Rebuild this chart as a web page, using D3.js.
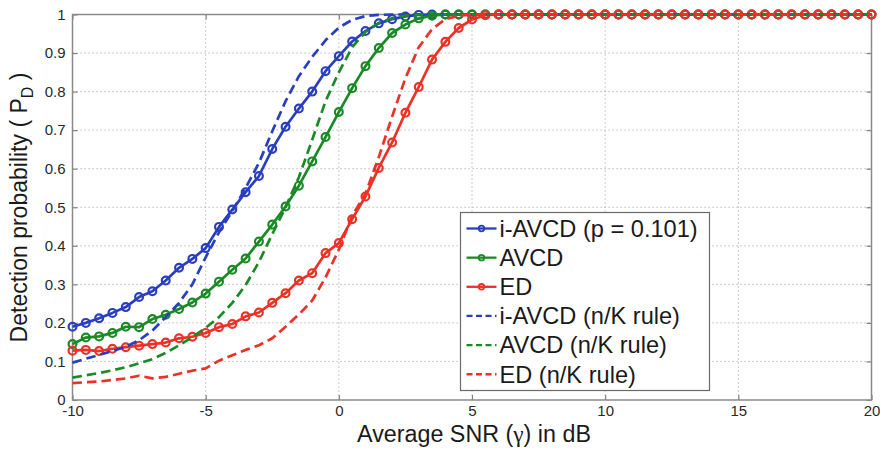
<!DOCTYPE html>
<html>
<head>
<meta charset="utf-8">
<script src="https://cdn.jsdelivr.net/npm/d3@7/dist/d3.min.js"></script>
<style>
  html, body { margin: 0; padding: 0; background: #fff; }
  svg { display: block; font-family: "Liberation Sans", Arial, sans-serif; }
</style>
</head>
<body>
<svg id="chart" width="880" height="450"></svg>
<script>
// Average SNR grid (dB)
const snrDb = [-10,-9.5,-9,-8.5,-8,-7.5,-7,-6.5,-6,-5.5,-5,-4.5,-4,-3.5,-3,-2.5,-2,-1.5,-1,-0.5,
  0,0.5,1,1.5,2,2.5,3,3.5,4,4.5,5,5.5,6,6.5,7,7.5,8,8.5,9,9.5,
  10,10.5,11,11.5,12,12.5,13,13.5,14,14.5,15,15.5,16,16.5,17,17.5,18,18.5,19,19.5,20];

// Detection probability per detector
const iAvcd = [0.190,0.200,0.212,0.226,0.241,0.267,0.282,0.310,0.343,0.366,0.394,0.449,0.494,0.539,0.581,0.651,0.709,0.756,0.800,0.853,
  0.892,0.930,0.957,0.977,0.988,0.995,0.999,1,1,1,1,1,1,1,1,1,1,1,1,1,
  1,1,1,1,1,1,1,1,1,1,1,1,1,1,1,1,1,1,1,1,1];
const avcd = [0.145,0.162,0.165,0.174,0.190,0.189,0.210,0.221,0.236,0.253,0.276,0.307,0.338,0.367,0.411,0.455,0.502,0.556,0.619,0.682,
  0.747,0.809,0.866,0.913,0.952,0.974,0.990,0.997,1,1,1,1,1,1,1,1,1,1,1,1,
  1,1,1,1,1,1,1,1,1,1,1,1,1,1,1,1,1,1,1,1,1];
const ed = [0.128,0.130,0.127,0.133,0.137,0.141,0.145,0.149,0.160,0.164,0.174,0.189,0.197,0.217,0.227,0.252,0.277,0.310,0.329,0.381,
  0.407,0.469,0.528,0.602,0.668,0.745,0.812,0.883,0.929,0.965,0.987,0.998,1,1,1,1,1,1,1,1,
  1,1,1,1,1,1,1,1,1,1,1,1,1,1,1,1,1,1,1,1,1];
const iAvcdNK = [0.097,0.107,0.117,0.127,0.138,0.155,0.180,0.215,0.252,0.300,0.370,0.435,0.490,0.550,0.615,0.697,0.775,0.840,0.890,0.933,
  0.966,0.986,0.996,0.999,1,1,1,1,1,1,1,1,1,1,1,1,1,1,1,1,
  1,1,1,1,1,1,1,1,1,1,1,1,1,1,1,1,1,1,1,1,1];
const avcdNK = [0.058,0.064,0.070,0.077,0.085,0.095,0.106,0.122,0.142,0.163,0.187,0.215,0.252,0.298,0.358,0.430,0.500,0.578,0.675,0.775,
  0.850,0.915,0.955,0.978,0.990,0.997,1,1,1,1,1,1,1,1,1,1,1,1,1,1,
  1,1,1,1,1,1,1,1,1,1,1,1,1,1,1,1,1,1,1,1,1];
const edNK = [0.044,0.046,0.048,0.052,0.056,0.063,0.056,0.060,0.068,0.076,0.082,0.102,0.116,0.130,0.142,0.160,0.190,0.222,0.258,0.318,
  0.390,0.478,0.535,0.630,0.735,0.835,0.915,0.962,0.988,0.997,1,1,1,1,1,1,1,1,1,1,
  1,1,1,1,1,1,1,1,1,1,1,1,1,1,1,1,1,1,1,1,1];

// Axis ticks
const xTicks = [-10, -5, 0, 5, 10, 15, 20];
const yTicks = [0, 0.1, 0.2, 0.3, 0.4, 0.5, 0.6, 0.7, 0.8, 0.9, 1];

// Legend entries, in drawing order
const seriesNames = ["i-AVCD (p = 0.101)", "AVCD", "ED", "i-AVCD (n/K rule)", "AVCD (n/K rule)", "ED (n/K rule)"];

const BLUE = "#2a3fc0", GREEN = "#1a8a26", RED = "#ec3127";
const series = [
  { name: seriesNames[0], values: iAvcd,   color: BLUE,  dashed: false },
  { name: seriesNames[1], values: avcd,    color: GREEN, dashed: false },
  { name: seriesNames[2], values: ed,      color: RED,   dashed: false },
  { name: seriesNames[3], values: iAvcdNK, color: BLUE,  dashed: true },
  { name: seriesNames[4], values: avcdNK,  color: GREEN, dashed: true },
  { name: seriesNames[5], values: edNK,    color: RED,   dashed: true }
];

const plot = { left: 72.5, right: 871.5, top: 14.5, bottom: 400 };
const x = d3.scaleLinear().domain([-10, 20]).range([plot.left, plot.right]);
const y = d3.scaleLinear().domain([0, 1]).range([plot.bottom, plot.top]);

const svg = d3.select("#chart");

// dotted grid
const grid = svg.append("g").attr("stroke", "#a8a8a8").attr("stroke-width", 1)
  .attr("stroke-dasharray", "1.2,2.8").attr("fill", "none");
grid.selectAll("line.gx").data(xTicks.slice(1, -1)).join("line")
  .attr("x1", d => x(d)).attr("x2", d => x(d))
  .attr("y1", plot.top).attr("y2", plot.bottom);
grid.selectAll("line.gy").data(yTicks.slice(1, -1)).join("line")
  .attr("x1", plot.left).attr("x2", plot.right)
  .attr("y1", d => y(d)).attr("y2", d => y(d));

// axes with inward ticks on all four sides
const tickColor = "#808080";
function styleAxis(g) {
  g.select(".domain").remove();
  g.selectAll(".tick line").attr("stroke", tickColor).attr("stroke-width", 1.2);
  g.selectAll(".tick text").attr("fill", "#2a2a2a").attr("font-size", "15px")
    .attr("font-family", "Liberation Sans, Arial, sans-serif");
}
svg.append("g").attr("transform", `translate(0,${plot.bottom})`)
  .call(d3.axisBottom(x).tickValues(xTicks).tickSize(-5).tickPadding(5).tickFormat(d => String(d)))
  .call(styleAxis);
svg.append("g").attr("transform", `translate(0,${plot.top})`)
  .call(d3.axisTop(x).tickValues(xTicks).tickSize(-5).tickFormat(""))
  .call(styleAxis);
svg.append("g").attr("transform", `translate(${plot.left},0)`)
  .call(d3.axisLeft(y).tickValues(yTicks).tickSize(-5).tickPadding(7).tickFormat(d => String(d)))
  .call(styleAxis);
svg.append("g").attr("transform", `translate(${plot.right},0)`)
  .call(d3.axisRight(y).tickValues(yTicks).tickSize(-5).tickFormat(""))
  .call(styleAxis);

// axes box
svg.append("rect")
  .attr("x", plot.left).attr("y", plot.top)
  .attr("width", plot.right - plot.left).attr("height", plot.bottom - plot.top)
  .attr("fill", "none").attr("stroke", "#8a8a8a").attr("stroke-width", 1.5);

// curves
const line = d3.line().x(d => x(d[0])).y(d => y(d[1]));
series.forEach(s => {
  const pts = snrDb.map((v, i) => [v, s.values[i]]);
  const g = svg.append("g");
  g.append("path").datum(pts)
    .attr("d", line)
    .attr("fill", "none")
    .attr("stroke", s.color)
    .attr("stroke-width", 2.7)
    .attr("stroke-dasharray", s.dashed ? "9.5,5" : null)
    .attr("stroke-linejoin", "round");
  if (!s.dashed) {
    g.selectAll("circle").data(pts).join("circle")
      .attr("cx", d => x(d[0])).attr("cy", d => y(d[1])).attr("r", 3.9)
      .attr("fill", "none").attr("stroke", s.color).attr("stroke-width", 2.2);
  }
});

// axis titles
svg.append("text")
  .attr("x", 474).attr("y", 441.5)
  .attr("text-anchor", "middle").attr("font-size", "23.3px").attr("fill", "#1a1a1a")
  .call(t => {
    t.append("tspan").text("Average SNR (");
    t.append("tspan").attr("font-family", "Liberation Serif, serif").text("γ");
    t.append("tspan").text(") in dB");
  });

svg.append("text")
  .attr("transform", "translate(27,207.5) rotate(-90)")
  .attr("text-anchor", "middle").attr("font-size", "23px").attr("fill", "#1a1a1a")
  .call(t => {
    t.append("tspan").text("Detection probability ( P");
    t.append("tspan").attr("font-size", "16px").attr("dy", "6").text("D");
    t.append("tspan").attr("dy", "-6").text(" )");
  });

// legend
const leg = svg.append("g");
leg.append("rect")
  .attr("x", 460.5).attr("y", 212.5).attr("width", 249).attr("height", 178)
  .attr("fill", "#fff").attr("stroke", "#6a6a6a").attr("stroke-width", 1.2);
const rowY = i => 228.5 + i * 29.15;
series.forEach((s, i) => {
  const ry = rowY(i);
  leg.append("line")
    .attr("x1", 466.5).attr("x2", 496.5).attr("y1", ry).attr("y2", ry)
    .attr("stroke", s.color).attr("stroke-width", 2.3)
    .attr("stroke-dasharray", s.dashed ? "6,3.5" : null);
  if (!s.dashed) {
    leg.append("circle").attr("cx", 481.5).attr("cy", ry).attr("r", 2.8)
      .attr("fill", "none").attr("stroke", s.color).attr("stroke-width", 1.8);
  }
  leg.append("text")
    .attr("x", 499.5).attr("y", ry + 8.3)
    .attr("font-size", "23.6px").attr("fill", "#1a1a1a")
    .text(s.name);
});
</script>
</body>
</html>
